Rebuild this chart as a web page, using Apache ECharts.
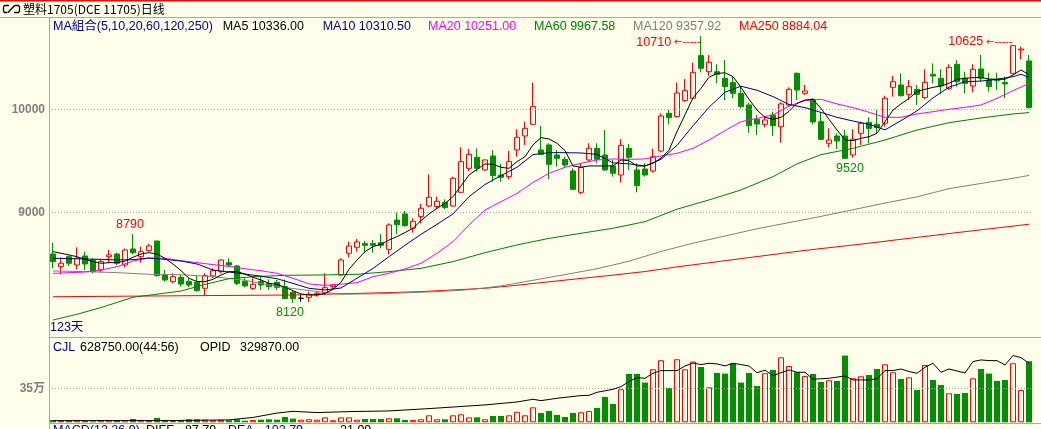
<!DOCTYPE html>
<html><head><meta charset="utf-8">
<script src="https://cdn.jsdelivr.net/npm/echarts@6/dist/echarts.min.js"></script>
<style>html,body{margin:0;padding:0;background:#FFFFEC;}#c{width:1041px;height:429px;}</style>
</head><body><div id="c"></div>
<script>
// ---------- data ----------
const categories = Array.from({length: 123}, (_, i) => 'D' + (i + 1));
const open = [8595,8472,8569,8488,8576,8537,8440,8569,8595,8488,8644,8569,8628,8721,8391,8327,8369,8327,8320,8262,
8382,8424,8511,8479,8327,8262,8327,8310,8320,8278,8223,8165,8174,8197,8220,8278,8391,8602,8660,8696,
8696,8705,8641,8925,8984,8845,8958,9061,9055,9097,9061,9194,9427,9534,9411,9547,9362,9346,9605,9741,
9854,9605,9654,9556,9514,9401,9194,9508,9621,9556,9450,9362,9621,9411,9420,9401,9595,9961,9929,10084,
10107,10521,10365,10365,10301,10259,10155,10042,9903,9854,9945,9831,10042,10349,10155,10097,9880,9670,9741,9741,
9556,9767,9874,9854,9864,10213,10236,10145,10194,10113,10340,10301,10204,10437,10301,10226,10391,10285,10291,10259,
10349,10576,10469];
const close = [8521,8505,8505,8553,8498,8424,8521,8586,8505,8634,8608,8618,8673,8385,8343,8375,8304,8294,8239,8385,
8433,8537,8488,8310,8285,8301,8294,8278,8272,8162,8162,8165,8204,8213,8268,8294,8537,8673,8712,8680,
8680,8680,8877,8880,8870,8913,9039,9146,9107,9045,9330,9492,9563,9427,9508,9356,9340,9492,9728,9815,
10026,9563,9466,9524,9459,9223,9434,9621,9514,9411,9379,9650,9534,9259,9362,9540,9935,9919,10158,10181,
10359,10398,10456,10340,10220,10155,10026,9841,9857,9896,9841,10052,10194,10187,10178,9877,9708,9702,9692,9524,
9709,9864,9815,9822,10107,10268,10132,10220,10145,10262,10323,10226,10407,10268,10252,10388,10301,10220,10278,10246,
10618,10585,10016];
const low = [8456,8398,8479,8446,8440,8408,8414,8511,8488,8466,8595,8511,8618,8375,8327,8310,8278,8272,8229,8197,
8359,8408,8466,8294,8272,8246,8246,8246,8246,8155,8120,8132,8130,8181,8197,8246,8382,8563,8618,8608,
8608,8650,8592,8790,8861,8802,8893,9049,9029,9029,9055,9191,9401,9395,9404,9297,9297,9320,9540,9654,
9848,9556,9320,9443,9427,9217,9175,9492,9476,9401,9346,9288,9411,9194,9346,9385,9582,9854,9920,10074,
10097,10359,10327,10252,10090,10107,10009,9773,9751,9825,9741,9676,10026,10090,10140,9854,9702,9631,9615,9520,
9530,9654,9670,9767,9831,10123,10123,10090,10042,10100,10252,10149,10187,10220,10155,10165,10268,10171,10187,10107,
10343,10485,10009];
const high = [8705,8563,8582,8660,8618,8553,8543,8634,8608,8650,8790,8666,8692,8725,8440,8408,8391,8359,8391,8408,
8456,8543,8553,8488,8359,8359,8375,8349,8343,8349,8246,8197,8229,8229,8408,8304,8553,8715,8741,8722,
8731,8790,8893,8997,9013,8942,9081,9369,9152,9126,9346,9631,9615,9621,9514,9605,9469,9595,9806,9880,
10259,9838,9670,9605,9540,9427,9476,9670,9670,9799,9508,9709,9663,9476,9476,9618,9961,9994,10260,10294,
10453,10710,10527,10437,10479,10317,10220,10064,9945,9935,9977,10068,10213,10359,10236,10107,9967,9815,9767,9799,
9806,9880,9922,9993,10132,10323,10349,10285,10236,10388,10446,10388,10437,10479,10365,10437,10527,10356,10356,10317,
10625,10608,10527];
// volume in 万手
const volume = [2.4,1.7,1.7,2.4,1.4,1.0,2.4,2.4,2.4,2.4,3.4,2.4,1.7,4.5,2.4,1.4,2.4,3.1,3.1,2.7,
2.1,2.4,2.1,3.1,1.7,2.4,2.7,3.1,2.7,5.5,3.8,2.7,3.1,2.7,5.1,2.1,5.1,5.1,2.7,3.4,
3.4,3.4,4.1,4.1,2.4,2.4,3.1,7.2,3.1,3.1,7.2,8.2,5.1,5.1,3.1,6.5,6.5,7.2,10.8,7.2,
15.4,9.6,11.7,7.6,5.5,9.6,10.3,11.7,14.8,26.1,18.9,34.0,49.8,49.8,40.9,54.6,63.9,35.4,64.9,54.6,
62.5,57.0,36.0,50.8,50.1,60.8,40.9,50.8,37.4,50.5,53.9,66.9,58.0,51.5,47.7,49.8,41.5,43.3,42.6,68.7,
45.3,47.4,48.7,54.9,59.7,51.5,44.6,46.3,33.3,59.0,43.6,38.4,29.9,29.2,30.2,45.3,54.9,50.1,42.6,43.6,
60.8,33.3,62.875];
// open interest [dayIndex, value]
const opid = [[0,9220],[15,9770],[22,13560],[25,27130],[28,51540],[30,61300],[33,54250],[37,59680],[42,63470],[47,76490],
[54,97110],[58,113380],[60,128570],[61,120980],[63,134000],[66,149190],[67,150820],[68,167630],[70,184450],[71,199100],
[72,227850],[73,249550],[74,245750],[75,273960],[76,288610],[78,288610],[79,314650],[80,330930],[81,322250],[82,329840],
[83,326040],[84,314650],[85,329840],[87,314650],[88,277220],[89,290780],[90,260940],[92,292410],[93,279390],[94,279390],
[95,240330],[97,245750],[99,258770],[100,236530],[102,236530],[103,244130],[104,288610],[105,288610],[106,297830],[107,283190],
[108,273960],[109,307060],[110,329840],[111,279390],[112,297830],[114,275590],[115,339060],[116,348290],[117,344490],[118,344490],
[119,320080],[120,372700],[121,361310],[122,329870]];
const ma5 = [8618,8602,8586,8569,8544,8521,8505,8511,8511,8527,8563,8595,8608,8595,8553,8498,8433,8359,8327,8327,
8349,8391,8424,8424,8401,8369,8343,8310,8301,8272,8239,8207,8197,8197,8213,8252,8320,8446,8537,8618,
8667,8689,8731,8764,8803,8845,8919,8984,9039,9087,9152,9256,9362,9417,9469,9466,9437,9427,9492,9540,
9654,9725,9712,9670,9599,9450,9437,9450,9450,9450,9450,9508,9501,9450,9450,9476,9526,9603,9783,9947,
10111,10204,10311,10347,10355,10317,10213,10097,9993,9922,9903,9922,9980,10058,10090,10097,10009,9903,9799,9702,
9696,9718,9734,9767,9880,9993,10052,10107,10171,10194,10213,10226,10252,10291,10301,10307,10310,10294,10291,10291,
10333,10382,10336];
const ma10 = [[0,8553],[2,8550],[4,8547],[6,8543],[8,8537],[10,8540],[12,8556],[14,8543],[16,8527],[18,8498],[20,8440],
[22,8420],[24,8400],[26,8380],[28,8355],[30,8310],[32,8262],[34,8246],[36,8265],[38,8360],[40,8455],[42,8569],[44,8680],
[46,8786],[48,8883],[50,8984],[52,9152],[54,9270],[56,9356],[58,9437],[60,9560],[62,9579],[64,9579],[66,9576],[68,9562],
[70,9480],[72,9470],[74,9450],[76,9514],[78,9650],[80,9840],[82,10020],[84,10165],[86,10224],[88,10185],[90,10123],
[92,10047],[94,10016],[96,9970],[98,9922],[100,9886],[102,9854],[104,9800],[106,9890],[108,9985],[110,10110],[112,10215],
[114,10268],[116,10274],[118,10291],[120,10317],[121,10340],[122,10310.5]];
const ma20 = [[0,8407],[2,8414],[4,8420],[6,8440],[8,8472],[10,8527],[12,8556],[14,8553],[16,8530],[18,8511],[20,8492],
[22,8475],[24,8452],[26,8432],[28,8408],[30,8359],[32,8305],[34,8290],[36,8303],[38,8317],[40,8375],[42,8408],[44,8450],
[46,8505],[48,8602],[50,8715],[52,8877],[54,9022],[56,9103],[58,9184],[60,9290],[62,9379],[64,9437],[66,9476],[68,9508],
[70,9518],[72,9514],[74,9518],[76,9547],[78,9573],[80,9621],[82,9702],[84,9793],[86,9880],[88,9912],[90,9945],[92,10032],
[94,10084],[96,10097],[98,10052],[100,10016],[102,9971],[104,9922],[106,9922],[108,9955],[110,9977],[112,10000],
[114,10019],[116,10042],[118,10107],[120,10181],[122,10251]];
const ma60 = [[0,7954],[3,8010],[6,8075],[10,8175],[13,8205],[16,8236],[19,8300],[22,8355],[25,8375],[29,8388],[33,8391],
[38,8398],[42,8424],[46,8456],[50,8521],[54,8608],[58,8683],[62,8747],[66,8796],[70,8845],[74,8909],[78,9030],[82,9120],
[86,9217],[90,9346],[93,9470],[96,9560],[100,9621],[104,9702],[108,9799],[112,9870],[116,9916],[120,9955],[122,9967.58]];
const ma120 = [[0,8430],[4,8424],[8,8414],[12,8398],[16,8394],[20,8375],[24,8340],[28,8280],[32,8240],[36,8205],[40,8208],
[44,8218],[48,8230],[52,8248],[56,8285],[60,8340],[64,8395],[68,8452],[72,8525],[76,8620],[80,8700],[84,8770],[88,8840],
[92,8900],[96,8960],[100,9025],[104,9090],[108,9150],[112,9230],[116,9280],[120,9330],[122,9357.92]];
const ma250 = [[0,8180],[10,8186],[20,8192],[30,8197],[34,8205],[42,8220],[46,8230],[50,8246],[54,8262],[58,8292],[62,8325],
[66,8358],[70,8390],[74,8425],[78,8470],[82,8510],[86,8550],[90,8590],[94,8630],[98,8665],[102,8700],[106,8738],[110,8775],
[114,8812],[118,8848],[122,8884.04]];
const priceTicks = [9000, 10000];
const volTick = 35;
const legendItems = [
  ['MA組合(5,10,20,60,120,250)', '#0000A0'],
  ['MA5 10336.00', '#000000'],
  ['MA10 10310.50', '#000080'],
  ['MA20 10251.00', '#FF00FF'],
  ['MA60 9967.58', '#008000'],
  ['MA120 9357.92', '#808080'],
  ['MA250 8884.04', '#FF0000']
];
const extremes = [
  {i: 10, v: 8790, kind: 'top'},
  {i: 30, v: 8120, kind: 'bottom'},
  {i: 99, v: 9520, kind: 'bottom'},
  {i: 81, v: 10710, kind: 'arrow'},
  {i: 120, v: 10625, kind: 'arrow'}
];

// ---------- style ----------
const BG = '#FFFFEC', RED = '#FF0000', GREEN = '#008F00', GRID = '#A8A8A8';
const FONT = '"Liberation Sans", Arial, "Noto Sans CJK SC", sans-serif';
const chart = echarts.init(document.getElementById('c'), null, {renderer: 'canvas'});

const kdata = open.map((o, i) => [o, close[i], low[i], high[i]]);
const volData = volume.map((v, i) => {
  const up = close[i] >= open[i];
  return {value: v, itemStyle: up ? {color: BG, borderColor: RED, borderWidth: 1} : {color: GREEN, borderWidth: 0}};
});

const markPts = extremes.map(e => {
  const up = e.kind !== 'bottom';
  const col = up ? RED : GREEN;
  let label;
  if (e.kind === 'arrow') {
    label = {show: true, position: 'left', distance: 0, offset: [0, e.i === 81 ? 6 : -3],
      formatter: e.v + '{a|←-----}', color: col, fontSize: 12.5, fontFamily: FONT,
      rich: {a: {color: col, fontSize: 10, fontFamily: '"DejaVu Sans"', padding: [0, 0, 0, 3]}}};
  } else if (e.kind === 'top') {
    label = {show: true, position: 'top', distance: 3, offset: [-3, 0], formatter: String(e.v), color: col, fontSize: 12.5, fontFamily: FONT};
  } else {
    label = {show: true, position: 'bottom', distance: 3, offset: [e.i === 99 ? 5 : -3, 0], formatter: String(e.v), color: col, fontSize: 12.5, fontFamily: FONT};
  }
  return {coord: [e.i, e.v], label};
});

function maLine(name, data, color) {
  return {name, type: 'line', xAxisIndex: 0, yAxisIndex: 0, data, showSymbol: false, symbol: 'none',
    lineStyle: {color, width: 1}, z: 5, silent: true};
}

const graphics = [
  {type: 'rect', shape: {x: 0, y: 0, width: 1041, height: 1.5}, style: {fill: RED}},
  {type: 'line', shape: {x1: 0, y1: 17.5, x2: 1041, y2: 17.5}, style: {stroke: GRID, lineWidth: 1}},
  {type: 'line', shape: {x1: 49.5, y1: 17, x2: 49.5, y2: 429}, style: {stroke: GRID, lineWidth: 1}},
  {type: 'line', shape: {x1: 49, y1: 337.5, x2: 1041, y2: 337.5}, style: {stroke: GRID, lineWidth: 1}},
  {type: 'line', shape: {x1: 49, y1: 423.5, x2: 1041, y2: 423.5}, style: {stroke: GRID, lineWidth: 1}},
  // title icon
  {type: 'polyline', shape: {points: [[9, 5.5], [4.5, 5.5], [3.5, 7], [3.5, 11], [4.5, 12.5], [7.5, 12.5]]}, style: {stroke: '#000', lineWidth: 1.3, fill: null}},
  {type: 'polyline', shape: {points: [[14.5, 5.5], [18.5, 5.5], [19.5, 7], [19.5, 11], [18.5, 12.5], [14, 12.5]]}, style: {stroke: '#000', lineWidth: 1.3, fill: null}},
  {type: 'line', shape: {x1: 8, y1: 12.5, x2: 14.5, y2: 5.5}, style: {stroke: '#000', lineWidth: 1.3}},
  {type: 'text', style: {text: '塑料1705(DCE 11705)日线', x: 23, y: 9, fill: '#000', font: '12px "Noto Sans CJK SC", sans-serif', verticalAlign: 'middle'}},
  {type: 'text', style: {text: '123天', x: 50, y: 328, fill: '#000080', font: '12.5px ' + FONT, verticalAlign: 'middle'}},
  {type: 'text', style: {text: 'CJL', x: 53, y: 347.5, fill: '#0000A0', font: '12.5px ' + FONT, verticalAlign: 'middle'}},
  {type: 'text', style: {text: '628750.00(44:56)', x: 80, y: 347.5, fill: '#000', font: '12.5px ' + FONT, verticalAlign: 'middle'}},
  {type: 'text', style: {text: 'OPID', x: 200, y: 347.5, fill: '#000', font: '12.5px ' + FONT, verticalAlign: 'middle'}},
  {type: 'text', style: {text: '329870.00', x: 240, y: 347.5, fill: '#000', font: '12.5px ' + FONT, verticalAlign: 'middle'}},
  {type: 'text', style: {text: 'MACD(12,26,9)', x: 53, y: 424, fill: '#0000A0', font: '12.5px ' + FONT, verticalAlign: 'top'}},
  {type: 'text', style: {text: 'DIFF  -87.79', x: 146, y: 424, fill: '#000', font: '12.5px ' + FONT, verticalAlign: 'top'}},
  {type: 'text', style: {text: 'DEA  -102.79', x: 228, y: 424, fill: '#0000A0', font: '12.5px ' + FONT, verticalAlign: 'top'}},
  {type: 'text', style: {text: '21.99', x: 340, y: 424, fill: '#000', font: '12.5px ' + FONT, verticalAlign: 'top'}}
];
const legendX = [53, 222.7, 322.7, 428, 534, 633, 739];
legendItems.forEach((it, k) => graphics.push({type: 'text', style: {text: it[0], x: legendX[k], y: 26.5, fill: it[1], font: '12.5px ' + FONT, verticalAlign: 'middle'}}));

const option = {
  backgroundColor: BG,
  animation: false,
  grid: [
    {left: 49, right: 8, top: 17, height: 320},
    {left: 49, right: 8, top: 338, height: 84.3}
  ],
  xAxis: [
    {type: 'category', data: categories, gridIndex: 0, boundaryGap: true, show: false},
    {type: 'category', data: categories, gridIndex: 1, boundaryGap: true, show: false}
  ],
  yAxis: [
    {type: 'value', gridIndex: 0, min: 7789.3, max: 10896.1, show: false},
    {type: 'value', gridIndex: 1, min: 0, max: 84.3 / 34 * 35, show: false},
    {type: 'value', gridIndex: 1, min: 0, max: 84.3 / 34 * 35 * 5425, show: false}
  ],
  series: [
    {type: 'candlestick', name: 'K', xAxisIndex: 0, yAxisIndex: 0, data: kdata, barWidth: 6, z: 3,
      itemStyle: {color: BG, color0: GREEN, borderColor: RED, borderColor0: GREEN, borderColorDoji: '#000', borderWidth: 1},
      markLine: {silent: true, symbol: ['none', 'none'], animation: false,
        lineStyle: {color: GRID, type: [1, 2], width: 1},
        label: {position: 'start', formatter: '{c}', color: '#808080', fontWeight: 'bold', fontSize: 12, fontFamily: FONT, distance: 4},
        data: priceTicks.map(v => ({yAxis: v}))},
      markPoint: {symbol: 'circle', symbolSize: 1, itemStyle: {color: 'rgba(0,0,0,0)'}, silent: true, data: markPts}
    },
    maLine('MA250', ma250, '#FF0000'),
    maLine('MA120', ma120, '#808080'),
    maLine('MA60', ma60, '#008000'),
    maLine('MA20', ma20, '#FF00FF'),
    maLine('MA10', ma10, '#000080'),
    maLine('MA5', ma5, '#000000'),
    {type: 'bar', name: 'CJL', xAxisIndex: 1, yAxisIndex: 1, data: volData, barWidth: 6,
      markLine: {silent: true, symbol: ['none', 'none'], animation: false,
        lineStyle: {color: GRID, type: [1, 2], width: 1},
        label: {position: 'start', formatter: volTick + '万', color: '#808080', fontWeight: 'bold', fontSize: 12, fontFamily: FONT + ', "Noto Sans CJK SC"', distance: 4},
        data: [{yAxis: volTick}]}
    },
    {type: 'line', name: 'OPID', xAxisIndex: 1, yAxisIndex: 2, data: opid, showSymbol: false, symbol: 'none',
      lineStyle: {color: '#000', width: 1}, z: 5}
  ],
  graphic: graphics
};
chart.setOption(option);
</script></body></html>
